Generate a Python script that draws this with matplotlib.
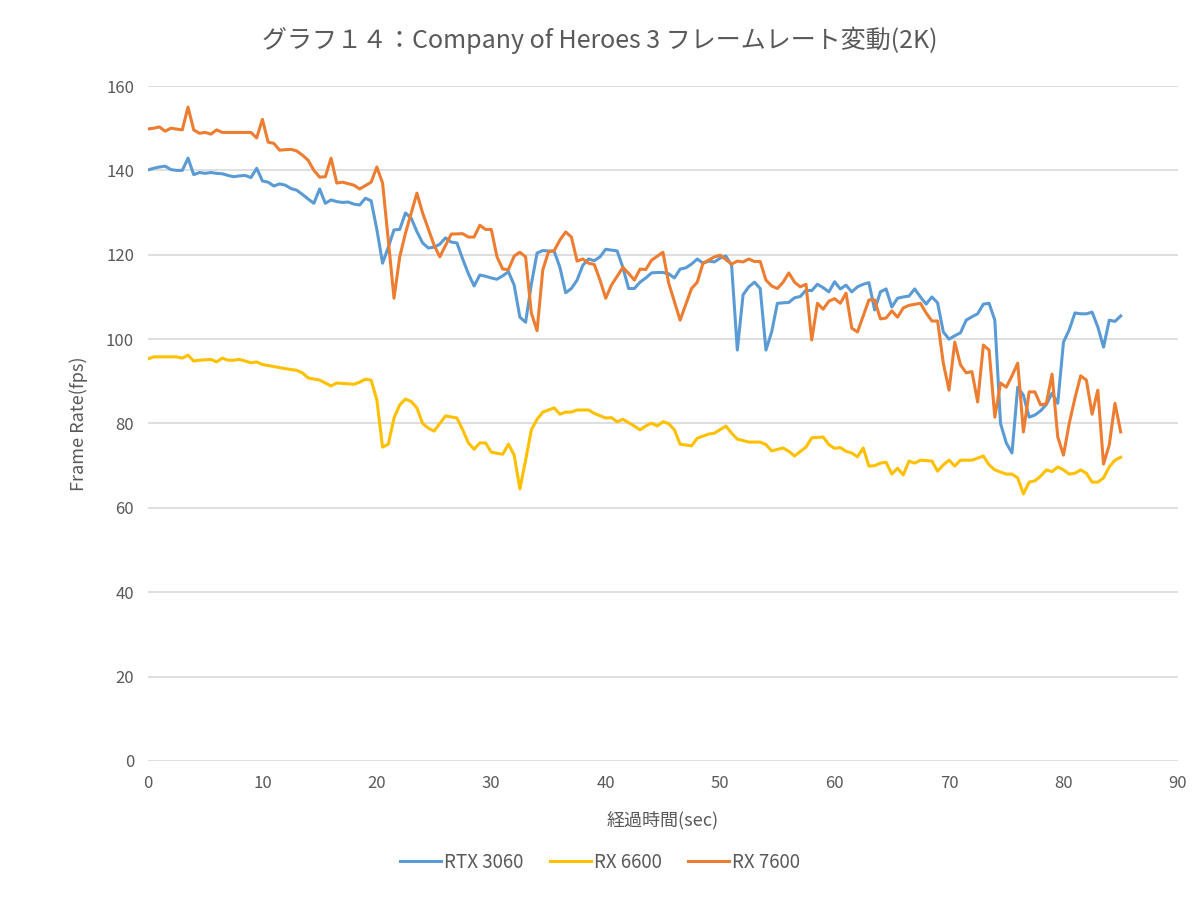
import matplotlib
matplotlib.use('Agg')
import matplotlib.pyplot as plt

plt.rcParams['font.family'] = ['Noto Sans CJK JP', 'DejaVu Sans']

# --- datos (tiempo en s, frame rate en fps) ---
t_rtx3060 = [0, 0.5, 1, 1.5, 2, 2.5, 3, 3.5, 4, 4.5, 5, 5.5, 6, 6.5, 7, 7.5, 8, 8.5, 9, 9.5,
             10, 10.5, 11, 11.5, 12, 12.5, 13, 13.5, 14, 14.5, 15, 15.5, 16, 16.5, 17, 17.5, 18, 18.5, 19, 19.5,
             20, 20.5, 21, 21.5, 22, 22.5, 23, 23.5, 24, 24.5, 25, 25.5, 26, 26.5, 27, 27.5, 28, 28.5, 29, 29.5,
             30, 30.5, 31, 31.5, 32, 32.5, 33, 33.5, 34, 34.5, 35, 35.5, 36, 36.5, 37, 37.5, 38, 38.5, 39, 39.5,
             40, 40.5, 41, 41.5, 42, 42.5, 43, 43.5, 44, 44.5, 45, 45.5, 46, 46.5, 47, 47.5, 48, 48.5, 49, 49.5,
             50, 50.5, 51, 51.5, 52, 52.5, 53, 53.5, 54, 54.5, 55, 55.5, 56, 56.5, 57, 57.5, 58, 58.5, 59, 59.5,
             60, 60.5, 61, 61.5, 62, 62.5, 63, 63.5, 64, 64.5, 65, 65.5, 66, 66.5, 67, 67.5, 68, 68.5, 69, 69.5,
             70, 70.5, 71, 71.5, 72, 72.5, 73, 73.5, 74, 74.5, 75, 75.5, 76, 76.5, 77, 77.5, 78, 78.5, 79, 79.5,
             80, 80.5, 81, 81.5, 82, 82.5, 83, 83.5, 84, 84.5, 85]
fps_rtx3060 = [140.1, 140.5, 140.8, 141, 140.2, 140, 140, 142.9, 139, 139.5, 139.3, 139.5, 139.3, 139.2, 138.8, 138.5, 138.7, 138.8, 138.3, 140.5,
               137.5, 137.2, 136.3, 136.8, 136.5, 135.7, 135.3, 134.3, 133.2, 132.2, 135.6, 132.2, 133, 132.6, 132.4, 132.5, 132, 131.8, 133.4, 132.8,
               126, 118, 121.8, 125.9, 126, 129.9, 128.7, 125.5, 122.8, 121.6, 121.8, 122.5, 124, 123, 122.8, 119, 115.5, 112.6, 115.2, 114.9,
               114.5, 114.2, 115, 116, 112.8, 105.2, 104, 113, 120.4, 121, 120.9, 120.8, 117, 111, 112, 114, 117.5, 119, 118.6, 119.5,
               121.3, 121.1, 120.9, 117, 112, 112, 113.5, 114.5, 115.7, 115.8, 115.8, 115.5, 114.5, 116.6, 116.9, 117.8, 119, 118, 118.5, 118.3,
               119.2, 119.7, 117.5, 97.4, 110.5, 112.4, 113.5, 112, 97.4, 101.7, 108.5, 108.6, 108.7, 109.8, 110.1, 111.6, 111.5, 113, 112.2, 111.2,
               113.6, 111.9, 112.8, 111.2, 112.4, 113, 113.4, 106.9, 111.2, 111.9, 107.6, 109.7, 110, 110.2, 111.9, 110, 108.3, 110, 108.6, 101.7,
               100, 100.8, 101.5, 104.5, 105.3, 106, 108.3, 108.5, 104.5, 80, 75.4, 73, 88.6, 86.7, 81.5, 82, 83, 84.5, 87.2, 84.8,
               99.3, 102.2, 106.2, 106, 106, 106.4, 102.9, 98.1, 104.5, 104.2, 105.5]

t_rx6600 = [0, 0.5, 2.5, 3, 3.5, 4, 4.5, 5.5, 6, 6.5, 7, 7.5, 8, 9, 9.5, 10, 11, 12, 13, 13.5,
            14, 15, 15.5, 16, 16.5, 18, 18.5, 19, 19.5, 20, 20.5, 21, 21.5, 22, 22.5, 23, 23.5, 24, 24.5, 25,
            25.5, 26, 27, 27.5, 28, 28.5, 29, 29.5, 30, 31, 31.5, 32, 32.5, 33, 33.5, 34, 34.5, 35.5, 36, 36.5,
            37, 37.5, 38.5, 39, 40, 40.5, 41, 41.5, 42.5, 43, 43.5, 44, 44.5, 45, 45.5, 46, 46.5, 47.5, 48, 49,
            49.5, 50.5, 51, 51.5, 52.5, 53.5, 54, 54.5, 55.5, 56, 56.5, 57.5, 58, 59, 59.5, 60, 60.5, 61, 61.5, 62,
            62.5, 63, 63.5, 64, 64.5, 65, 65.5, 66, 66.5, 67, 67.5, 68.5, 69, 69.5, 70, 70.5, 71, 71.5, 72, 73,
            73.5, 74, 75, 75.5, 76, 76.5, 77, 77.5, 78, 78.5, 79, 79.5, 80, 80.5, 81, 81.5, 82, 82.5, 83, 83.5,
            84, 84.5, 85]
fps_rx6600 = [95.3, 95.8, 95.8, 95.5, 96.2, 94.8, 95, 95.2, 94.6, 95.5, 95, 95, 95.2, 94.4, 94.6, 94, 93.5, 93, 92.6, 92,
              90.8, 90.3, 89.6, 88.9, 89.6, 89.3, 89.8, 90.5, 90.3, 85.6, 74.4, 75.1, 81.3, 84.4, 85.8, 85.2, 83.7, 80, 78.9, 78.2,
              80, 81.8, 81.3, 78.5, 75.4, 73.9, 75.4, 75.4, 73.2, 72.7, 75.1, 72.5, 64.5, 71.3, 78.5, 81, 82.7, 83.7, 82.2, 82.7,
              82.7, 83.2, 83.2, 82.4, 81.3, 81.4, 80.4, 81, 79.4, 78.5, 79.4, 80.1, 79.4, 80.4, 80, 78.5, 75.1, 74.7, 76.5, 77.5,
              77.7, 79.4, 77.7, 76.3, 75.6, 75.6, 75, 73.5, 74.2, 73.4, 72.3, 74.4, 76.6, 76.8, 75, 74.1, 74.3, 73.4, 73, 72.1,
              74.2, 69.9, 70, 70.6, 70.8, 68, 69.4, 67.8, 71.1, 70.6, 71.3, 71.1, 68.7, 70.2, 71.3, 69.9, 71.3, 71.3, 71.3, 72.3,
              70.2, 69, 68, 68, 67.1, 63.3, 66.1, 66.4, 67.5, 69, 68.6, 69.7, 69, 68, 68.2, 69, 68.2, 66.1, 66.1, 67.1,
              69.7, 71.3, 72]

t_rx7600 = [0, 0.5, 1, 1.5, 2, 3, 3.5, 4, 4.5, 5, 5.5, 6, 6.5, 9, 9.5, 10, 10.5, 11, 11.5, 12.5,
            13, 13.5, 14, 14.5, 15, 15.5, 16, 16.5, 17, 18, 18.5, 19.5, 20, 20.5, 21, 21.5, 22, 22.5, 23.5, 24,
            25, 25.5, 26.5, 27.5, 28, 28.5, 29, 29.5, 30, 30.5, 31, 31.5, 32, 32.5, 33, 33.5, 34, 34.5, 35, 35.5,
            36, 36.5, 37, 37.5, 38, 38.5, 39, 39.5, 40, 40.5, 41.5, 42, 42.5, 43, 43.5, 44, 45, 45.5, 46.5, 47.5,
            48, 48.5, 49.5, 50, 51, 51.5, 52, 52.5, 53, 53.5, 54, 54.5, 55, 55.5, 56, 56.5, 57, 57.5, 58, 58.5,
            59, 59.5, 60, 60.5, 61, 61.5, 62, 62.5, 63, 63.5, 64, 64.5, 65, 65.5, 66, 66.5, 67.5, 68, 68.5, 69,
            69.5, 70, 70.5, 71, 71.5, 72, 72.5, 73, 73.5, 74, 74.5, 75, 75.5, 76, 76.5, 77, 77.5, 78, 78.5, 79,
            79.5, 80, 80.5, 81, 81.5, 82, 82.5, 83, 83.5, 84, 84.5, 85]
fps_rx7600 = [149.8, 150, 150.3, 149.3, 150, 149.6, 155, 149.6, 148.8, 149, 148.6, 149.6, 149, 149, 147.7, 152.1, 146.7, 146.4, 144.8, 145,
              144.6, 143.6, 142.4, 140, 138.4, 138.5, 142.9, 137, 137.2, 136.5, 135.6, 137.2, 140.8, 137, 123.5, 109.7, 119.5, 125.1, 134.6, 129.9,
              122.3, 119.5, 124.9, 125, 124.2, 124.2, 127, 126, 126, 119.5, 116.6, 116.5, 119.7, 120.6, 119.5, 106.2, 102, 116.4, 120.7, 121,
              123.5, 125.4, 124.2, 118.5, 119, 118, 117.7, 114, 109.7, 112.8, 117, 115.6, 114, 116.6, 116.5, 118.7, 120.6, 113.3, 104.5, 112,
              113.5, 118, 119.5, 119.9, 117.8, 118.5, 118.3, 119, 118.4, 118.4, 114, 112.6, 112, 113.5, 115.7, 113.5, 112.4, 113, 99.8, 108.5,
              107.1, 109, 109.6, 108.5, 110.9, 102.6, 101.7, 105.5, 109.3, 109.3, 104.8, 105, 106.7, 105.2, 107.4, 108, 108.5, 106.2, 104.3, 104.3,
              94.3, 87.9, 99.3, 93.9, 92, 92.3, 85.1, 98.6, 97.4, 81.5, 89.6, 88.6, 91.3, 94.3, 78, 87.5, 87.5, 84.4, 84.7, 91.7,
              76.8, 72.5, 80, 86, 91.3, 90.3, 82.2, 87.9, 70.4, 74.9, 84.8, 78]

series = [
    ('RTX 3060', t_rtx3060, fps_rtx3060, '#5B9BD5'),
    ('RX 6600', t_rx6600, fps_rx6600, '#FFC000'),
    ('RX 7600', t_rx7600, fps_rx7600, '#ED7D31'),
]

texto = '#595959'

fig = plt.figure(figsize=(12, 8.98), dpi=100)
ax = fig.add_axes([0.1233, 0.1526, 0.8583, 0.7516])

for nombre, t, v, color in series:
    ax.plot(t, v, color=color, lw=2.2, label=nombre, solid_joinstyle='round')

ax.set_xlim(0, 90)
ax.set_ylim(0, 160)
ax.set_xticks(range(0, 91, 10))
ax.set_yticks(range(0, 161, 20))
ax.grid(True, axis='y', color='#d9d9d9', lw=1.2)
ax.set_axisbelow(True)
for lado in ['top', 'right', 'left', 'bottom']:
    ax.spines[lado].set_visible(False)
ax.tick_params(length=0, labelsize=12, labelcolor=texto, pad=10)

ax.set_xlabel('経過時間(sec)', fontsize=13, color=texto, labelpad=14)
ax.set_ylabel('Frame Rate(fps)', fontsize=13, color=texto, labelpad=13)

fig.text(0.5, 0.955, 'グラフ１４：Company of Heroes 3 フレームレート変動(2K)',
         ha='center', va='center', fontsize=18, color=texto)

fig.legend(loc='center', bbox_to_anchor=(0.5, 0.04), ncol=3, frameon=False,
           fontsize=13.5, labelcolor=texto, handlelength=2.2, handletextpad=0.15,
           columnspacing=1.4)

fig.savefig('out.png', dpi=100, facecolor='white')
